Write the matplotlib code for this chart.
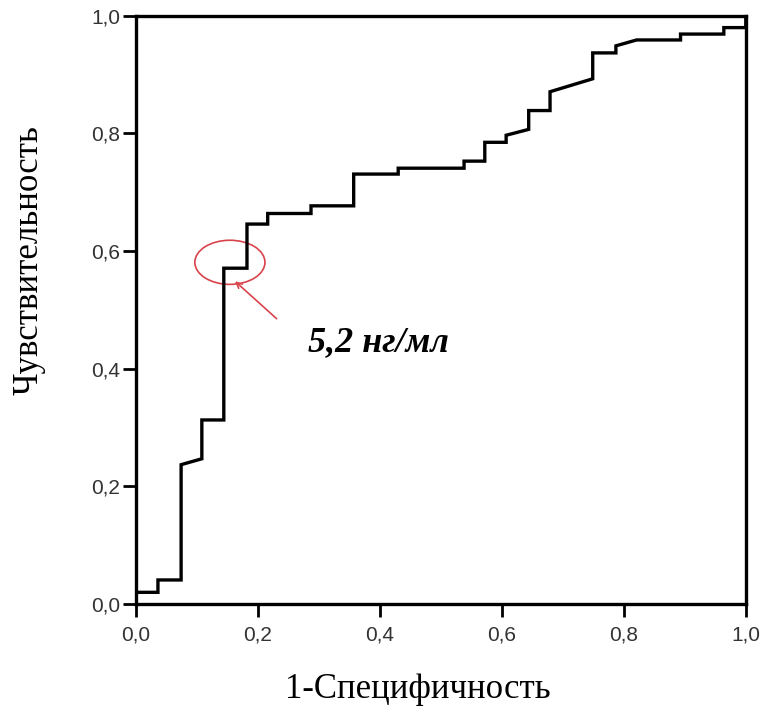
import matplotlib.pyplot as plt
from matplotlib.patches import Ellipse

# ROC curve vertices (1-specificity, sensitivity)
fpr = [0.0, 0.036, 0.036, 0.074, 0.074, 0.108, 0.108, 0.144, 0.144, 0.182,
       0.182, 0.216, 0.216, 0.287, 0.287, 0.357, 0.357, 0.43, 0.43, 0.538,
       0.538, 0.572, 0.572, 0.607, 0.607, 0.644, 0.644, 0.679, 0.679, 0.749,
       0.749, 0.787, 0.787, 0.821, 0.893, 0.893, 0.964, 0.964, 1.0, 1.0]
tpr = [0.02, 0.02, 0.041, 0.041, 0.237, 0.247, 0.313, 0.313, 0.571, 0.571,
       0.646, 0.646, 0.664, 0.664, 0.677, 0.677, 0.731, 0.731, 0.741, 0.741,
       0.753, 0.753, 0.785, 0.785, 0.797, 0.807, 0.839, 0.839, 0.871, 0.893,
       0.937, 0.937, 0.949, 0.959, 0.959, 0.969, 0.969, 0.98, 0.98, 1.0]

ticks = [0.0, 0.2, 0.4, 0.6, 0.8, 1.0]
tick_labels = ["0,0", "0,2", "0,4", "0,6", "0,8", "1,0"]
cutoff_label = "5,2 нг/мл"
cutoff_point = (0.154, 0.581)

fig = plt.figure(figsize=(7.61, 7.20), dpi=100)
ax = fig.add_axes([0.1787, 0.161, 0.8013, 0.817])

ax.plot(fpr, tpr, color="black", lw=2.4, solid_joinstyle="miter")
ax.set_xlim(0, 1)
ax.set_ylim(0, 1)

for s in ax.spines.values():
    s.set_linewidth(2.4)
ax.set_xticks(ticks)
ax.set_yticks(ticks)
ax.set_xticklabels(tick_labels, family="Liberation Sans")
ax.set_yticklabels(tick_labels, family="Liberation Sans")
ax.tick_params(direction="out", length=9.5, width=2, labelsize=15, labelcolor="#333333")
ax.tick_params(axis="x", pad=6)
ax.tick_params(axis="y", pad=2)

ax.set_xlabel("1-Специфичность", family="Liberation Serif", fontsize=25)
ax.set_ylabel("Чувствительность", family="Liberation Serif", fontsize=25)
ax.xaxis.set_label_coords(0.462, -0.118)
ax.yaxis.set_label_coords(-0.149, 0.585)

# highlighted cut-off point
ax.add_patch(Ellipse(cutoff_point, 0.115, 0.075, fill=False, ec="#d9434b", lw=1.2))
ax.annotate("", xy=(0.159, 0.552), xytext=(0.234, 0.482),
            arrowprops=dict(arrowstyle="->", color="#d9434b", lw=1.2))
ax.text(0.282, 0.445, cutoff_label, family="Liberation Serif", fontsize=26,
        fontweight="bold", fontstyle="italic", va="center", ha="left")

fig.savefig("out.png", dpi=100)
